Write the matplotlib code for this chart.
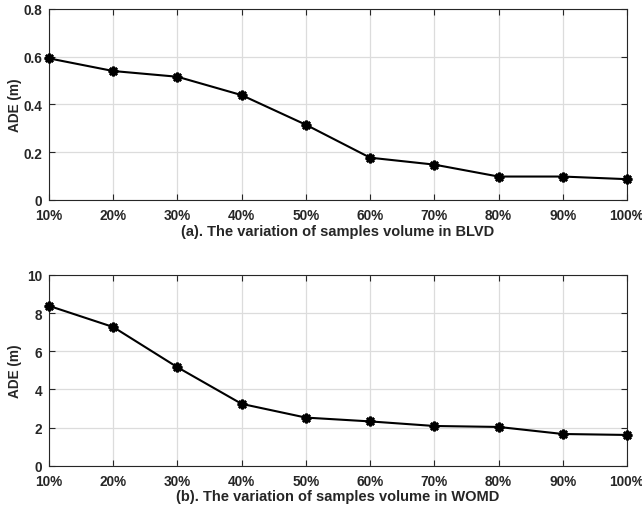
import numpy as np
import matplotlib.pyplot as plt

plt.rcParams['font.family'] = ['Liberation Sans', 'DejaVu Sans']
plt.rcParams['font.weight'] = 'bold'

# data
volumes = ['10%', '20%', '30%', '40%', '50%', '60%', '70%', '80%', '90%', '100%']
ade_blvd = [0.593, 0.540, 0.516, 0.439, 0.315, 0.177, 0.148, 0.098, 0.098, 0.087]
ade_womd = [8.38, 7.27, 5.16, 3.24, 2.52, 2.32, 2.08, 2.03, 1.66, 1.61]

panels = [
    (ade_blvd, (0, 0.8), [0, 0.2, 0.4, 0.6, 0.8], ['0', '0.2', '0.4', '0.6', '0.8'],
     '(a). The variation of samples volume in BLVD', [0.0763, 0.606, 0.9003, 0.3745]),
    (ade_womd, (0, 10), [0, 2, 4, 6, 8, 10], ['0', '2', '4', '6', '8', '10'],
     '(b). The variation of samples volume in WOMD', [0.0763, 0.085, 0.9003, 0.3739]),
]

fig = plt.figure(figsize=(6.42, 5.1), dpi=100)

for vals, ylim, yticks, ylabels, xlabel, pos in panels:
    ax = fig.add_axes(pos)
    x = np.arange(len(volumes))
    ax.plot(x, vals, color='black', lw=1.5, marker=(8, 2, 0), ms=7, mew=1.8,
            clip_on=False, zorder=3)
    ax.set_xlim(0, len(volumes) - 1)
    ax.set_ylim(*ylim)
    ax.set_xticks(x)
    ax.set_xticklabels(volumes)
    ax.set_yticks(yticks)
    ax.set_yticklabels(ylabels)
    ax.grid(True, color='#dcdcdc', lw=0.9)
    ax.set_axisbelow(True)
    ax.tick_params(direction='in', top=True, right=True, length=4, width=0.8,
                   colors='#262626', labelsize=9.8)
    ax.tick_params(axis='x', pad=6)
    ax.tick_params(axis='y', pad=5)
    for lbl in ax.get_xticklabels() + ax.get_yticklabels():
        lbl.set_fontweight('bold')
    for sp in ax.spines.values():
        sp.set_color('#262626')
        sp.set_linewidth(0.8)
    ax.set_ylabel('ADE (m)', fontsize=9.8, fontweight='bold', color='#262626')
    ax.yaxis.set_label_coords(-0.047, 0.5)
    ax.set_xlabel(xlabel, fontsize=10.5, fontweight='bold', color='#262626', labelpad=1)

fig.savefig('out.png', dpi=100)
